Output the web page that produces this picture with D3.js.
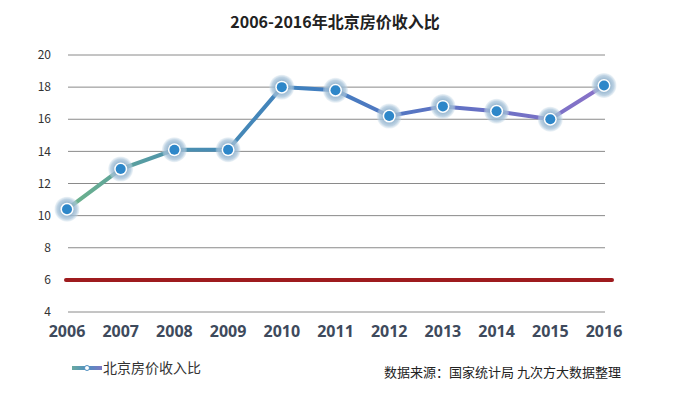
<!DOCTYPE html>
<html>
<head>
<meta charset="utf-8">
<script src="https://cdn.jsdelivr.net/npm/d3@7"></script>
<style>
  body { margin: 0; background: #fff; }
  svg { display: block; font-family: "Noto Sans CJK SC", "DejaVu Sans", sans-serif; }
</style>
</head>
<body>
<svg id="chart" width="698" height="393"></svg>
<script>
// data
const years = ["2006", "2007", "2008", "2009", "2010", "2011", "2012", "2013", "2014", "2015", "2016"];
const ratio = [10.4, 12.9, 14.1, 14.1, 18.0, 17.8, 16.2, 16.8, 16.5, 16.0, 18.1];
const yTicks = [4, 6, 8, 10, 12, 14, 16, 18, 20];
const refValue = 6;
const title = "2006-2016年北京房价收入比";
const seriesName = "北京房价收入比";
const sourceNote = "数据来源：国家统计局  九次方大数据整理";

const svg = d3.select("#chart");
const margin = {left: 67, right: 94, top: 55, bottom: 81};
const width = 698 - margin.left - margin.right;
const height = 393 - margin.top - margin.bottom;

const x = d3.scalePoint().domain(years).range([margin.left, margin.left + width]);
const y = d3.scaleLinear().domain([4, 20]).range([margin.top + height, margin.top]);

// title
svg.append("text")
  .attr("x", 335).attr("y", 28)
  .attr("text-anchor", "middle")
  .style("font-size", "16px").style("font-weight", "bold").style("fill", "#222")
  .text(title);

// gridlines
svg.append("g").attr("class", "grid")
  .selectAll("line").data(yTicks).join("line")
  .attr("x1", margin.left + 1).attr("x2", margin.left + width + 1)
  .attr("y1", d => y(d)).attr("y2", d => y(d))
  .attr("stroke", "#8a8a8a").attr("stroke-width", 1);

// y labels
svg.append("g").attr("class", "axis axis--y")
  .selectAll("text").data(yTicks).join("text")
  .attr("x", 51).attr("y", d => y(d))
  .attr("dy", "0.35em")
  .attr("text-anchor", "end")
  .style("font-size", "12px").style("fill", "#333")
  .text(d => d);

// x labels
svg.append("g").attr("class", "axis axis--x")
  .selectAll("text").data(years).join("text")
  .attr("x", d => x(d)).attr("y", 337)
  .attr("text-anchor", "middle")
  .style("font-size", "16px").style("font-weight", "bold").style("fill", "#3e4a5c")
  .style("font-family", "'Open Sans', 'DejaVu Sans', sans-serif")
  .text(d => d);

// reference line at 6
svg.append("line")
  .attr("x1", margin.left - 1).attr("x2", margin.left + width + 8)
  .attr("y1", y(refValue)).attr("y2", y(refValue))
  .attr("stroke", "#9e1b1e").attr("stroke-width", 4)
  .attr("stroke-linecap", "round");

// line gradient green -> blue -> purple
const defs = svg.append("defs");
const grad = defs.append("linearGradient")
  .attr("id", "lineGrad")
  .attr("gradientUnits", "userSpaceOnUse")
  .attr("x1", x(years[0])).attr("x2", x(years[years.length - 1]))
  .attr("y1", 0).attr("y2", 0);
grad.append("stop").attr("offset", "0%").attr("stop-color", "#6db38a");
grad.append("stop").attr("offset", "22%").attr("stop-color", "#4a8fb0");
grad.append("stop").attr("offset", "45%").attr("stop-color", "#3f7fbf");
grad.append("stop").attr("offset", "75%").attr("stop-color", "#6470c4");
grad.append("stop").attr("offset", "100%").attr("stop-color", "#8a72c8");

const halo = defs.append("radialGradient").attr("id", "halo");
halo.append("stop").attr("offset", "50%").attr("stop-color", "#8fb1cc").attr("stop-opacity", 0.9);
halo.append("stop").attr("offset", "80%").attr("stop-color", "#a9c4da").attr("stop-opacity", 0.75);
halo.append("stop").attr("offset", "100%").attr("stop-color", "#c8dbe8").attr("stop-opacity", 0.3);

const line = d3.line()
  .x((d, i) => x(years[i]))
  .y(d => y(d));

svg.append("path")
  .datum(ratio)
  .attr("d", line)
  .attr("fill", "none")
  .attr("stroke", "url(#lineGrad)")
  .attr("stroke-width", 4);

// markers
const pts = svg.append("g").selectAll("g").data(ratio).join("g")
  .attr("transform", (d, i) => "translate(" + x(years[i]) + "," + y(d) + ")");
pts.append("circle").attr("r", 12.5).attr("fill", "url(#halo)");
pts.append("circle").attr("r", 6.5).attr("fill", "#ffffff");
pts.append("circle").attr("r", 5).attr("fill", "#2e87c9");

// legend
const lgGrad = defs.append("linearGradient").attr("id", "legGrad");
lgGrad.append("stop").attr("offset", "0%").attr("stop-color", "#6aa9a0");
lgGrad.append("stop").attr("offset", "50%").attr("stop-color", "#4f8fc0");
lgGrad.append("stop").attr("offset", "100%").attr("stop-color", "#7c78c4");
const lg = svg.append("g").attr("transform", "translate(72,368)");
lg.append("rect").attr("x", 0).attr("y", -2).attr("width", 30).attr("height", 4)
  .attr("fill", "url(#legGrad)");
lg.append("circle").attr("cx", 15).attr("r", 2.5).attr("fill", "#fff").attr("stroke", "#4f8fc0").attr("stroke-width", 1);
lg.append("text").attr("x", 31).attr("y", 0).attr("dy", "0.35em")
  .style("font-size", "14px").style("fill", "#333")
  .text(seriesName);

// source note
svg.append("text")
  .attr("x", 621).attr("y", 377)
  .attr("text-anchor", "end")
  .style("font-size", "13px").style("fill", "#222")
  .text(sourceNote);
</script>
</body>
</html>
